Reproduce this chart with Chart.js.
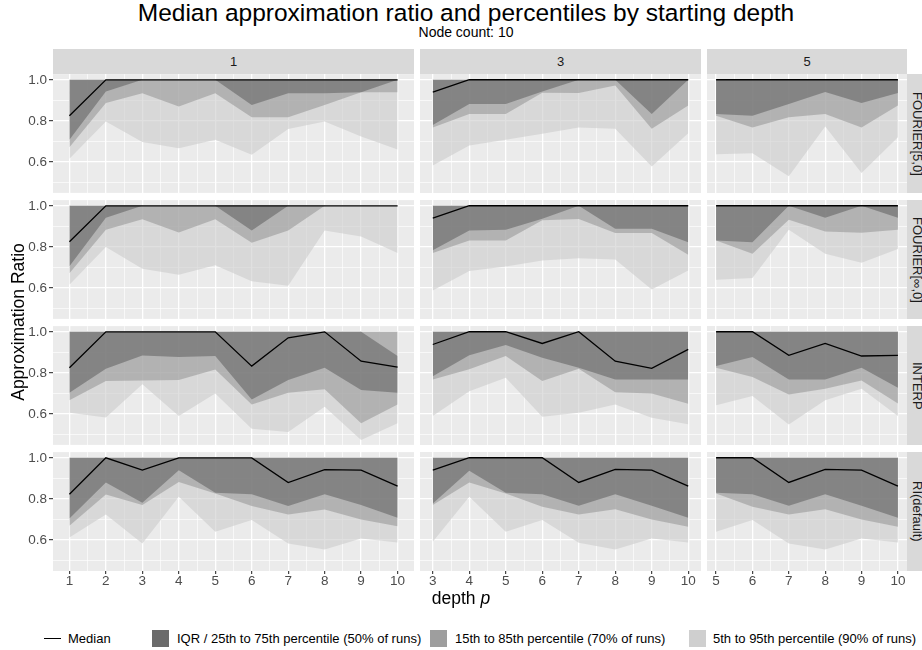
<!DOCTYPE html>
<html>
<head>
<meta charset="utf-8">
<script src="https://cdn.jsdelivr.net/npm/chart.js@4.4.1/dist/chart.umd.min.js"></script>
<style>
  body { margin: 0; background: #fff; font-family: "Liberation Sans", Arial, sans-serif; }
  #wrap { position: relative; width: 922px; height: 650px; overflow: hidden; background: #fff; }
  canvas { position: absolute; }
  .txt { position: absolute; white-space: nowrap; color: #000; }
  .strip { position: absolute; background: #D9D9D9; color: #1A1A1A; font-size: 13px;
           display: flex; align-items: center; justify-content: center; }
  .rstrip span { writing-mode: vertical-rl; text-orientation: sideways; }
  .key { position: absolute; width: 17px; height: 17px; }
</style>
</head>
<body>
<div id="wrap"></div>
<script>
// facets
const methods = ['FOURIER[5,0]', 'FOURIER[\u221E,0]', 'INTERP', 'RI(default)'];
const startDepths = [1, 3, 5];
const depthsFrom1 = [1, 2, 3, 4, 5, 6, 7, 8, 9, 10];
const depthsFrom3 = [3, 4, 5, 6, 7, 8, 9, 10];
const depthsFrom5 = [5, 6, 7, 8, 9, 10];

// axis ticks
const yTickValues = [0.6, 0.8, 1.0];
const yTickLabels = ['0.6', '0.8', '1.0'];
const yMinorValues = [0.5, 0.7, 0.9];

// FOURIER[5,0]
const fourier5From1 = {
  median: [0.825, 1, 1, 1, 1, 1, 1, 1, 1, 1],
  p75:    [1, 1, 1, 1, 1, 1, 1, 1, 1, 1],
  p85:    [1, 1, 1, 1, 1, 1, 1, 1, 1, 1],
  p95:    [1, 1, 1, 1, 1, 1, 1, 1, 1, 1],
  p25:    [0.708, 0.943, 1.0, 1.0, 1.0, 0.878, 0.935, 0.935, 0.94, 1.0],
  p15:    [0.672, 0.887, 0.935, 0.870, 0.935, 0.818, 0.818, 0.878, 0.94, 0.94],
  p5:     [0.616, 0.797, 0.697, 0.667, 0.708, 0.635, 0.76, 0.797, 0.724, 0.66]
};
const fourier5From3 = {
  median: [0.94, 1, 1, 1, 1, 1, 1, 1],
  p75:    [1, 1, 1, 1, 1, 1, 1, 1],
  p85:    [1, 1, 1, 1, 1, 1, 1, 1],
  p95:    [1, 1, 1, 1, 1, 1, 1, 1],
  p25:    [0.78, 0.882, 0.882, 0.943, 1.0, 1.0, 0.833, 1.0],
  p15:    [0.768, 0.833, 0.833, 0.937, 0.935, 0.972, 0.762, 0.875],
  p5:     [0.583, 0.68, 0.708, 0.737, 0.768, 0.762, 0.578, 0.74]
};
const fourier5From5 = {
  median: [1, 1, 1, 1, 1, 1],
  p75:    [1, 1, 1, 1, 1, 1],
  p85:    [1, 1, 1, 1, 1, 1],
  p95:    [1, 1, 1, 1, 1, 1],
  p25:    [0.833, 0.825, 0.882, 0.94, 0.887, 0.935],
  p15:    [0.825, 0.768, 0.818, 0.833, 0.768, 0.875],
  p5:     [0.638, 0.643, 0.53, 0.773, 0.546, 0.72]
};

// FOURIER[inf,0]
const fourierInfFrom1 = {
  median: [0.825, 1, 1, 1, 1, 1, 1, 1, 1, 1],
  p75:    [1, 1, 1, 1, 1, 1, 1, 1, 1, 1],
  p85:    [1, 1, 1, 1, 1, 1, 1, 1, 1, 1],
  p95:    [1, 1, 1, 1, 1, 1, 1, 1, 1, 1],
  p25:    [0.705, 0.942, 1.0, 1.0, 1.0, 0.88, 1.0, 1.0, 1.0, 1.0],
  p15:    [0.672, 0.883, 0.935, 0.87, 0.935, 0.82, 0.88, 1.0, 1.0, 1.0],
  p5:     [0.616, 0.80, 0.693, 0.664, 0.71, 0.633, 0.61, 0.88, 0.85, 0.77]
};
const fourierInfFrom3 = {
  median: [0.94, 1, 1, 1, 1, 1, 1, 1],
  p75:    [1, 1, 1, 1, 1, 1, 1, 1],
  p85:    [1, 1, 1, 1, 1, 1, 1, 1],
  p95:    [1, 1, 1, 1, 1, 1, 1, 1],
  p25:    [0.783, 0.88, 0.883, 0.937, 1.0, 0.888, 0.888, 0.823],
  p15:    [0.77, 0.831, 0.831, 0.93, 0.935, 0.868, 0.868, 0.762],
  p5:     [0.588, 0.682, 0.705, 0.734, 0.745, 0.738, 0.593, 0.685]
};
const fourierInfFrom5 = {
  median: [1, 1, 1, 1, 1, 1],
  p75:    [1, 1, 1, 1, 1, 1],
  p85:    [1, 1, 1, 1, 1, 1],
  p95:    [1, 1, 1, 1, 1, 1],
  p25:    [0.831, 0.823, 1.0, 0.942, 1.0, 0.942],
  p15:    [0.831, 0.766, 0.932, 0.875, 0.869, 0.883],
  p5:     [0.64, 0.648, 0.883, 0.766, 0.723, 0.79]
};

// INTERP
const interpFrom1 = {
  median: [0.825, 1, 1, 1, 1, 0.833, 0.971, 1.0, 0.857, 0.828],
  p75:    [1, 1, 1, 1, 1, 1, 1, 1, 1, 0.882],
  p85:    [1, 1, 1, 1, 1, 1, 1, 1, 1, 1],
  p95:    [1, 1, 1, 1, 1, 1, 1, 1, 1, 1],
  p25:    [0.703, 0.82, 0.885, 0.878, 0.882, 0.67, 0.765, 0.825, 0.716, 0.703],
  p15:    [0.667, 0.76, 0.763, 0.765, 0.817, 0.646, 0.703, 0.72, 0.554, 0.646],
  p5:     [0.606, 0.582, 0.744, 0.59, 0.70, 0.528, 0.512, 0.635, 0.473, 0.554]
};
const interpFrom3 = {
  median: [0.938, 1, 1, 0.943, 1, 0.857, 0.822, 0.914],
  p75:    [1, 1, 1, 1, 1, 1, 1, 1],
  p85:    [1, 1, 1, 1, 1, 1, 1, 1],
  p95:    [1, 1, 1, 1, 1, 1, 1, 1],
  p25:    [0.784, 0.886, 0.935, 0.873, 0.825, 0.768, 0.768, 0.768],
  p15:    [0.768, 0.817, 0.882, 0.76, 0.82, 0.706, 0.70, 0.65],
  p5:     [0.59, 0.711, 0.776, 0.587, 0.606, 0.646, 0.582, 0.55]
};
const interpFrom5 = {
  median: [1, 1, 0.885, 0.943, 0.882, 0.885],
  p75:    [1, 1, 1, 1, 1, 1],
  p85:    [1, 1, 1, 1, 1, 1],
  p95:    [1, 1, 1, 1, 1, 1],
  p25:    [0.833, 0.877, 0.768, 0.768, 0.825, 0.727],
  p15:    [0.825, 0.78, 0.695, 0.723, 0.763, 0.651],
  p5:     [0.642, 0.687, 0.549, 0.667, 0.723, 0.59]
};

// RI(default)
const riFrom1 = {
  median: [0.823, 1.0, 0.94, 1.0, 1.0, 1.0, 0.88, 0.943, 0.94, 0.862],
  p75:    [1, 1, 1, 1, 1, 1, 1, 1, 1, 1],
  p85:    [1, 1, 1, 1, 1, 1, 1, 1, 1, 1],
  p95:    [1, 1, 1, 1, 1, 1, 1, 1, 1, 1],
  p25:    [0.705, 0.88, 0.781, 0.94, 0.83, 0.823, 0.766, 0.823, 0.77, 0.708],
  p15:    [0.669, 0.822, 0.77, 0.883, 0.826, 0.765, 0.724, 0.749, 0.70, 0.667],
  p5:     [0.612, 0.724, 0.583, 0.81, 0.64, 0.697, 0.583, 0.554, 0.607, 0.588]
};
const riFrom3 = {
  median: [0.94, 1.0, 1.0, 1.0, 0.88, 0.943, 0.94, 0.862],
  p75:    [1, 1, 1, 1, 1, 1, 1, 1],
  p85:    [1, 1, 1, 1, 1, 1, 1, 1],
  p95:    [1, 1, 1, 1, 1, 1, 1, 1],
  p25:    [0.778, 0.937, 0.83, 0.823, 0.766, 0.823, 0.766, 0.708],
  p15:    [0.77, 0.88, 0.826, 0.762, 0.724, 0.749, 0.70, 0.664],
  p5:     [0.591, 0.81, 0.64, 0.697, 0.586, 0.554, 0.607, 0.588]
};
const riFrom5 = {
  median: [1.0, 1.0, 0.88, 0.943, 0.94, 0.862],
  p75:    [1, 1, 1, 1, 1, 1],
  p85:    [1, 1, 1, 1, 1, 1],
  p95:    [1, 1, 1, 1, 1, 1],
  p25:    [0.83, 0.823, 0.766, 0.823, 0.766, 0.708],
  p15:    [0.826, 0.762, 0.724, 0.749, 0.70, 0.664],
  p5:     [0.64, 0.697, 0.583, 0.554, 0.607, 0.588]
};

const panelRows = [
  [fourier5From1, fourier5From3, fourier5From5],
  [fourierInfFrom1, fourierInfFrom3, fourierInfFrom5],
  [interpFrom1, interpFrom3, interpFrom5],
  [riFrom1, riFrom3, riFrom5]
];
const panelDepths = [depthsFrom1, depthsFrom3, depthsFrom5];

// layout (pixels)
const COL_LEFT = [53, 420, 707];
const COL_W = [361, 281, 200];
const ROW_TOP = [74, 200, 326, 452];
const ROW_H = 119;
const PAD = 10;
const Y_AXIS_W = 53;
const X_AXIS_H = 24;
const Y_MIN = 0.449, Y_MAX = 1.028;
const FONT = '"Liberation Sans", Arial, sans-serif';

const DARK = 'rgba(102,102,102,0.6)';
const MID = 'rgba(153,153,153,0.6)';
const LIGHT = 'rgba(204,204,204,0.6)';

const wrap = document.getElementById('wrap');

function addText(html, css) {
  const d = document.createElement('div');
  d.className = 'txt';
  d.innerHTML = html;
  Object.assign(d.style, css);
  wrap.appendChild(d);
  return d;
}

const panelBg = {
  id: 'panelBg',
  beforeDraw(chart) {
    const { ctx, chartArea: a } = chart;
    ctx.save();
    ctx.fillStyle = '#EBEBEB';
    ctx.fillRect(a.left, a.top, a.right - a.left, a.bottom - a.top);
    ctx.restore();
  }
};

function pts(xs, ys) {
  return xs.map((x, i) => ({ x: x, y: ys[i] }));
}

function bandLine(data, order, fill, color) {
  return {
    data: data, order: order, fill: fill,
    backgroundColor: color || 'rgba(0,0,0,0)',
    borderColor: 'rgba(0,0,0,0)', borderWidth: 0,
    pointRadius: 0, tension: 0
  };
}

function makePanel(r, c) {
  const xs = panelDepths[c];
  const d = panelRows[r][c];
  const showY = c === 0;
  const showX = r === 3;
  const yw = showY ? Y_AXIS_W : 0;
  const xh = showX ? X_AXIS_H : 0;

  const cv = document.createElement('canvas');
  cv.width = COL_W[c] + yw;
  cv.height = ROW_H + 2 * PAD + xh;
  cv.style.left = (COL_LEFT[c] - yw) + 'px';
  cv.style.top = (ROW_TOP[r] - PAD) + 'px';
  wrap.appendChild(cv);

  const first = xs[0], last = xs[xs.length - 1];
  const ext = (last - first) * 0.05;
  const xMinor = xs.slice(0, -1).map(v => v + 0.5);
  const xGrid = xs.concat(xMinor).sort((a, b) => a - b);
  const yGrid = yTickValues.concat(yMinorValues).sort((a, b) => a - b);

  new Chart(cv, {
    type: 'line',
    data: {
      datasets: [
        bandLine(pts(xs, d.p95), 6, false),
        bandLine(pts(xs, d.p5), 5, '-1', LIGHT),
        bandLine(pts(xs, d.p85), 4, false),
        bandLine(pts(xs, d.p15), 3, '-1', MID),
        bandLine(pts(xs, d.p75), 2, false),
        bandLine(pts(xs, d.p25), 1, '-1', DARK),
        {
          data: pts(xs, d.median), order: 0, fill: false,
          borderColor: '#000000', borderWidth: 1.3, pointRadius: 0, tension: 0
        }
      ]
    },
    options: {
      responsive: false,
      animation: false,
      events: [],
      layout: { padding: { top: PAD, bottom: PAD, left: 0, right: 0 } },
      plugins: { legend: { display: false }, tooltip: { enabled: false } },
      scales: {
        x: {
          type: 'linear', min: first - ext, max: last + ext,
          afterBuildTicks: s => { s.ticks = xGrid.map(v => ({ value: v })); },
          afterFit: s => { s.height = xh; },
          border: { display: false },
          grid: {
            color: '#FFFFFF',
            lineWidth: ctx => Number.isInteger(ctx.tick.value) ? 1.3 : 0.65,
            drawTicks: showX, tickLength: 3,
            tickColor: ctx => Number.isInteger(ctx.tick.value) ? '#333333' : 'rgba(0,0,0,0)',
            tickWidth: 1.1
          },
          ticks: {
            display: showX, autoSkip: false, maxRotation: 0, padding: -1,
            color: '#4D4D4D', font: { family: FONT, size: 13.5 },
            callback: v => Number.isInteger(v) ? String(v) : ''
          }
        },
        y: {
          type: 'linear', min: Y_MIN, max: Y_MAX,
          afterBuildTicks: s => { s.ticks = yGrid.map(v => ({ value: v })); },
          afterFit: s => { s.width = yw; },
          border: { display: false },
          grid: {
            color: '#FFFFFF',
            lineWidth: ctx => yTickValues.includes(ctx.tick.value) ? 1.3 : 0.65,
            drawTicks: showY, tickLength: 4,
            tickColor: ctx => yTickValues.includes(ctx.tick.value) ? '#333333' : 'rgba(0,0,0,0)',
            tickWidth: 1.1
          },
          ticks: {
            display: showY, padding: 2, autoSkip: false,
            color: '#4D4D4D', font: { family: FONT, size: 13.5 },
            callback: v => {
              const i = yTickValues.indexOf(v);
              return i >= 0 ? yTickLabels[i] : '';
            }
          }
        }
      }
    },
    plugins: [panelBg]
  });
}

// strips
startDepths.forEach((sd, c) => {
  const s = document.createElement('div');
  s.className = 'strip';
  Object.assign(s.style, { left: COL_LEFT[c] + 'px', top: '49px', width: COL_W[c] + 'px', height: '25px' });
  s.textContent = String(sd);
  wrap.appendChild(s);
});
methods.forEach((m, r) => {
  const s = document.createElement('div');
  s.className = 'strip rstrip';
  Object.assign(s.style, { left: '907px', top: ROW_TOP[r] + 'px', width: '20px', height: ROW_H + 'px' });
  const sp = document.createElement('span');
  sp.textContent = m;
  s.appendChild(sp);
  wrap.appendChild(s);
});

for (let r = 0; r < 4; r++) {
  for (let c = 0; c < 3; c++) makePanel(r, c);
}

// titles
addText('Median approximation ratio and percentiles by starting depth',
  { left: '0px', width: '932px', top: '0px', textAlign: 'center', fontSize: '24.5px', lineHeight: '25px' });
addText('Node count: 10',
  { left: '0px', width: '932px', top: '25px', textAlign: 'center', fontSize: '14px', lineHeight: '14px' });
addText('depth <i>p</i>',
  { left: '361px', width: '200px', top: '588px', textAlign: 'center', fontSize: '17.5px', lineHeight: '20px' });
addText('Approximation Ratio',
  { left: '-82px', width: '200px', top: '312px', textAlign: 'center', fontSize: '17.5px', lineHeight: '20px',
    transform: 'rotate(-90deg)' });

// legend
const legendItems = [
  { label: 'Median', key: 'line', keyLeft: 44, textLeft: 68 },
  { label: 'IQR / 25th to 75th percentile (50% of runs)', key: '#6B6B6B', keyLeft: 152, textLeft: 177 },
  { label: '15th to 85th percentile (70% of runs)', key: '#9E9E9E', keyLeft: 430, textLeft: 455 },
  { label: '5th to 95th percentile (90% of runs)', key: '#CFCFCF', keyLeft: 689, textLeft: 713 }
];
legendItems.forEach(it => {
  const k = document.createElement('div');
  k.className = 'key';
  k.style.left = it.keyLeft + 'px';
  k.style.top = '630px';
  if (it.key === 'line') {
    k.style.height = '0px';
    k.style.top = '638px';
    k.style.borderTop = '1.3px solid #000';
  } else {
    k.style.background = it.key;
  }
  wrap.appendChild(k);
  addText(it.label, { left: it.textLeft + 'px', top: '631px', fontSize: '13px', lineHeight: '15px' });
});
</script>
</body>
</html>
